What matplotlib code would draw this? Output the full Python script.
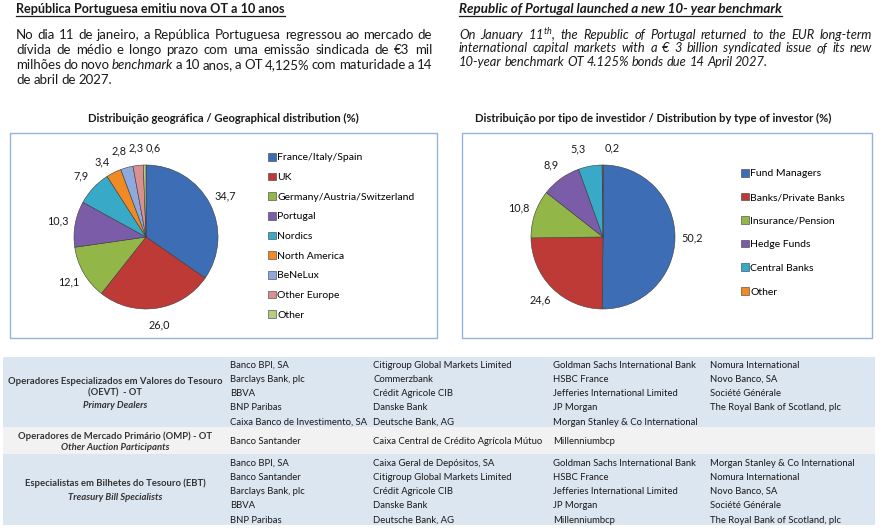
import matplotlib
matplotlib.use('Agg')
import matplotlib.pyplot as plt
from matplotlib.patches import Rectangle
from matplotlib.lines import Line2D

plt.rcParams['font.family'] = ['Lato', 'DejaVu Sans']
plt.rcParams['mathtext.fontset'] = 'custom'
plt.rcParams['mathtext.rm'] = 'Lato:italic'
plt.rcParams['mathtext.it'] = 'Lato:italic'

# dados dos graficos
geo_labels = ['France/Italy/Spain', 'UK', 'Germany/Austria/Switzerland', 'Portugal',
              'Nordics', 'North America', 'BeNeLux', 'Other Europe', 'Other']
geo_values = [34.7, 26.0, 12.1, 10.3, 7.9, 3.4, 2.8, 2.3, 0.6]
geo_colors = ['#3d6db5', '#be3a36', '#93b648', '#7a5ca8', '#38aac8',
              '#f08a24', '#8ea9db', '#d9908f', '#b5cc85']

inv_labels = ['Fund Managers', 'Banks/Private Banks', 'Insurance/Pension',
              'Hedge Funds', 'Central Banks', 'Other']
inv_values = [50.2, 24.6, 10.8, 8.9, 5.3, 0.2]
inv_colors = ['#3d6db5', '#be3a36', '#93b648', '#7a5ca8', '#38aac8', '#f08a24']

# textos
titulo_pt = 'República Portuguesa emitiu nova OT a 10 anos'
titulo_en = 'Republic of Portugal launched a new 10- year benchmark'
texto_pt = ['No dia 11 de janeiro, a República Portuguesa regressou ao mercado de',
            'dívida de médio e longo prazo com uma emissão sindicada de €3 mil',
            'milhões do novo benchmark a 10 anos, a OT 4,125% com maturidade a 14',
            'de abril de 2027.']
texto_en = ['On January 11$^{th}$, the Republic of Portugal returned to the EUR long-term',
            'international capital markets with a € 3 billion syndicated issue of its new',
            '10-year benchmark OT 4.125% bonds due 14 April 2027.']

# tabela de operadores
grupos = [
    ('Operadores Especializados em Valores do Tesouro', '(OEVT)  - OT', 'Primary Dealers'),
    ('Operadores de Mercado Primário (OMP) - OT', None, 'Other Auction Participants'),
    ('Especialistas em Bilhetes do Tesouro (EBT)', None, 'Treasury Bill Specialists'),
]
oevt = [
    ['Banco BPI, SA', 'Barclays Bank, plc', 'BBVA', 'BNP Paribas', 'Caixa Banco de Investimento, SA'],
    ['Citigroup Global Markets Limited', 'Commerzbank', 'Crédit Agricole CIB', 'Danske Bank', 'Deutsche Bank, AG'],
    ['Goldman Sachs International Bank', 'HSBC France', 'Jefferies International Limited', 'JP Morgan',
     'Morgan Stanley & Co International'],
    ['Nomura International', 'Novo Banco, SA', 'Société Générale', 'The Royal Bank of Scotland, plc'],
]
omp = [['Banco Santander'], ['Caixa Central de Crédito Agrícola Mútuo'], ['Millenniumbcp'], []]
ebt = [
    ['Banco BPI, SA', 'Banco Santander', 'Barclays Bank, plc', 'BBVA', 'BNP Paribas'],
    ['Caixa Geral de Depósitos, SA', 'Citigroup Global Markets Limited', 'Crédit Agricole CIB', 'Danske Bank',
     'Deutsche Bank, AG'],
    ['Goldman Sachs International Bank', 'HSBC France', 'Jefferies International Limited', 'JP Morgan',
     'Millenniumbcp'],
    ['Morgan Stanley & Co International', 'Nomura International', 'Novo Banco, SA', 'Société Générale',
     'The Royal Bank of Scotland, plc'],
]

W, H = 880, 531
fig = plt.figure(figsize=(W / 100, H / 100), dpi=100)
renderer = fig.canvas.get_renderer()
txt = '#1a1a1a'


def fx(x):
    return x / W


def fy(y):
    return 1 - y / H


def texto(x, y, s, **kw):
    kw.setdefault('color', txt)
    kw.setdefault('va', 'center')
    return fig.text(fx(x), fy(y), s, **kw)


def sublinhar(t):
    bb = t.get_window_extent(renderer)
    y = bb.y0 - 1.0
    fig.add_artist(Line2D([bb.x0 / W, bb.x1 / W], [y / H, y / H], color=txt, lw=0.9))


def justificar(linhas, x0, x1, y0, dy, size, style='normal', italicos=()):
    for i, linha in enumerate(linhas):
        palavras = linha.split(' ')
        arts = []
        for p in palavras:
            st = 'italic' if p in italicos else style
            arts.append(texto(x0, y0 + i * dy, p, fontsize=size, style=st))
        larg = [a.get_window_extent(renderer).width for a in arts]
        if i == len(linhas) - 1:
            gap = size * 0.3
        else:
            gap = (x1 - x0 - sum(larg)) / (len(palavras) - 1)
        x = x0
        for a, w in zip(arts, larg):
            a.set_x(fx(x))
            x += w + gap


# cabecalhos
t1 = texto(16, 9, titulo_pt, fontsize=9.1, fontweight='bold')
sublinhar(t1)
t2 = texto(459, 9, titulo_en, fontsize=9.6, fontweight='bold', style='italic')
sublinhar(t2)
justificar(texto_pt, 16, 432, 35, 15, 9.5, italicos=('benchmark',))
justificar(texto_en, 459, 872, 35, 13.5, 9.3, style='italic')

# caixas dos graficos
for x0, x1 in [(10, 437), (462, 872)]:
    fig.add_artist(Rectangle((fx(x0), fy(338)), (x1 - x0) / W, (338 - 133) / H,
                             fill=False, edgecolor='#95b3d7', lw=1.0))

texto(223, 118, 'Distribuição geográfica / Geographical distribution (%)', fontsize=8.1,
      fontweight='bold', ha='center')
texto(653, 118, 'Distribuição por tipo de investidor / Distribution by type of investor (%)', fontsize=8.1,
      fontweight='bold', ha='center')


def pizza(cx, cy, r, valores, cores, nomes, leg_xy, leg_sp, ajustes):
    ax = fig.add_axes([fx(cx - r), fy(cy + r), 2 * r / W, 2 * r / H])
    rot = [('%.1f' % v).replace('.', ',') for v in valores]
    wedges, labs = ax.pie(valores, colors=cores, startangle=90, counterclock=False,
                          labels=rot, labeldistance=1.24,
                          wedgeprops=dict(edgecolor='#3a3a3a', linewidth=0.4),
                          textprops=dict(fontsize=7.8, color=txt))
    for t in labs:
        t.set_ha('center')
        t.set_va('center')
    for i, (dx, dy) in ajustes.items():
        x, y = labs[i].get_position()
        labs[i].set_position((x + dx, y + dy))
    ax.set_xlim(-1, 1)
    ax.set_ylim(-1, 1)
    fig.legend(wedges, nomes, loc='upper left', bbox_to_anchor=(fx(leg_xy[0]), fy(leg_xy[1])),
               frameon=False, fontsize=7.5, handlelength=0.75, handleheight=0.75,
               handletextpad=0.15, labelspacing=leg_sp, borderpad=0, borderaxespad=0)


pizza(146, 237, 72, geo_values, geo_colors, geo_labels, (268, 153), 0.98,
      {5: (-0.06, -0.06), 6: (-0.05, 0.0), 7: (0.0, 0.0), 8: (0.12, 0.0)})
pizza(603, 237, 72, inv_values, inv_colors, inv_labels, (741, 169), 1.36,
      {4: (-0.12, 0.0), 5: (0.14, 0.0)})

# tabela
fundos = [(357, 427, '#dce6f1'), (427, 454, '#f2f2f2'), (454, 525, '#dce6f1')]
for y0, y1, c in fundos:
    fig.add_artist(Rectangle((fx(3), fy(y1)), (875 - 3) / W, (y1 - y0) / H,
                             facecolor=c, edgecolor='none', zorder=0))

col_x = [230, 373, 553, 710]
sz = 6.85
for col, nomes in zip(col_x, oevt):
    for j, n in enumerate(nomes):
        texto(col, 365 + j * 14.3, n, fontsize=sz)
for col, nomes in zip(col_x, omp):
    for n in nomes:
        texto(col, 442, n, fontsize=sz)
for col, nomes in zip(col_x, ebt):
    for j, n in enumerate(nomes):
        texto(col, 463 + j * 14.3, n, fontsize=sz)

rot_y = [(381, 393, 405), (436, None, 448), (483, None, 497)]
for (a, b, c), (ya, yb, yc) in zip(grupos, rot_y):
    texto(115, ya, a, fontsize=sz, fontweight='bold', ha='center', color='#333333')
    if b:
        texto(115, yb, b, fontsize=sz, fontweight='bold', ha='center', color='#333333')
    texto(115, yc, c, fontsize=sz, fontweight='bold', style='italic', ha='center', color='#333333')

fig.savefig('out.png', dpi=100, facecolor='white')
